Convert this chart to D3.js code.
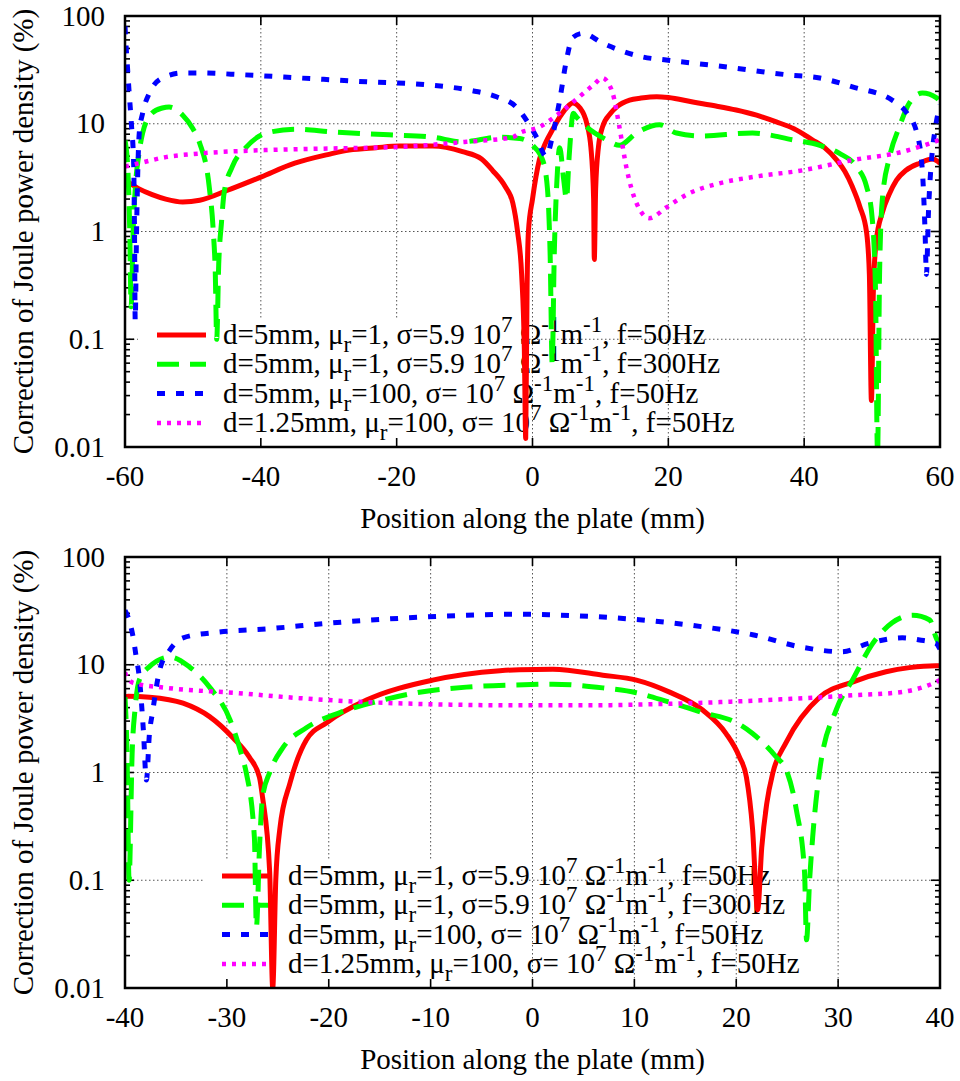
<!DOCTYPE html>
<html><head><meta charset="utf-8">
<script src="https://cdn.jsdelivr.net/npm/d3@7"></script>
<style>body{margin:0;background:#fff}svg{display:block}text{font-family:"Liberation Serif","Times New Roman",serif;fill:#000}</style>
</head><body><svg id="c" width="960" height="1081"></svg>
<script>
// ---------------- data ----------------
const topXTicks = [-60,-40,-20,0,20,40,60];
const botXTicks = [-40,-30,-20,-10,0,10,20,30,40];
const yTicks = [0.01,0.1,1,10,100];
const yTickLabels = ["0.01","0.1","1","10","100"];
const xTitle = "Position along the plate (mm)";
const yTitle = "Correction of Joule power density (%)";

// top panel
const topRedX = [-60,-58,-56,-54,-51.5,-49,-45,-40,-35,-30,-27,-23,-19.6,-14.7,-10.3,-7.5,-5.9,-4,-2.9,-2.2,-1.6,-1.2,-1.0,-0.8,-0.6,0,1,2,2.9,4,5,5.9,7,8,8.6,9.0,9.1,9.3,9.7,10.3,11.5,12.5,14.3,16,18.3,20,23.6,27,30,33,35.9,38.5,41.2,43,44.8,46,47.1,48.2,49.2,49.6,49.9,50.2,50.6,51.5,52.5,53.6,55,57,58.9,60];
const topRedY = [3.0,2.5,2.2,2.0,1.88,1.95,2.4,3.2,4.3,5.2,5.7,6.0,6.2,6.2,5.5,4.7,3.7,2.6,1.84,1.0,0.4,0.08,0.012,0.3,1.0,2.0,4.6,6.8,8.7,11.5,14,15.6,14,10,6,2,0.55,2.5,6,9.3,12.5,14.5,16.6,17.3,17.8,17.5,15.9,14.6,13.4,12,10.4,9,7.1,6,4.6,3.6,2.6,1.7,0.97,0.4,0.027,0.3,0.8,1.49,2.2,3.0,3.7,4.3,4.7,4.3];

const topGreenX = [-60,-59.6,-59.3,-59.1,-58.8,-58.4,-58,-57.4,-56,-54.5,-53.5,-51.5,-50,-49,-47.6,-47,-46.7,-46.5,-46.2,-45.8,-45.4,-44.2,-42.1,-39.2,-34.8,-29.5,-21.1,-14.7,-10.3,-4.9,-1.9,0,1.5,2.2,2.6,2.9,3.2,3.6,4.0,4.6,5.0,5.4,6.0,6.5,8,10.9,12.8,15.3,18.7,21.2,24.6,32.4,38.3,42.3,45.2,47.7,49.2,50,50.5,50.8,51.1,51.5,52.6,54,55.5,57.4,59.5,60];
const topGreenY = [7,4,1,0.2,1,3,5,8.2,12.6,14,14.3,12,9,6.6,2.6,1,0.4,0.1,0.5,1.2,2.3,4.0,6.1,8.2,8.9,8.4,7.9,7.5,6.8,7.5,7.3,6.3,4.6,2.5,0.6,0.06,0.6,3,6,3,2,5,12.5,11.5,9.3,7.1,6.3,8.2,9.8,8.2,7.7,8.2,7.1,6.3,5.3,4.0,2.6,1.36,0.3,0.008,0.4,1.95,5.0,9.3,15.6,19.3,17.4,16];

const topBlueX = [-60,-59.8,-59.6,-59.4,-59.2,-59.0,-58.8,-58.7,-58.6,-58.5,-58.3,-58.1,-57.9,-57.4,-56.4,-54.5,-51.5,-49,-42.7,-34.3,-24.4,-15.6,-9.3,-5.3,-2.4,-0.9,0.6,2,3,4,5,5.9,7.4,10.3,16.2,19.7,28.6,37.4,42.3,47.1,53,55.1,56.6,57.4,57.8,58.0,58.3,58.8,59.3,60];
const topBlueY = [80,48,31,20,13.4,8.8,5.7,3.6,1.0,0.15,1,4,8.2,12.6,19.3,26.6,29.6,29.6,28.5,26.6,24.5,23,20.5,17.8,14.3,10.8,7.5,5.0,8,16.5,39,63,69,56,41.7,39,33.6,28.5,26.6,22,16.5,12.6,8.2,3.7,1,0.4,1.5,5,9,15];

const topMagX = [-60,-57.9,-54,-49,-39.2,-29.5,-19.6,-9.7,-2.9,-1.9,1,4,6.9,9,10.3,11.3,11.8,12.8,13.8,15.3,17.2,19.7,22.7,27.5,32.4,39.8,47.1,54.5,60];
const topMagY = [4.0,4.3,4.9,5.3,5.7,5.9,6.1,6.8,7.5,8.2,9.3,12.6,17.8,23,26.6,23,19.3,9.3,4.0,1.84,1.33,1.67,2.2,2.8,3.2,3.7,4.6,5.5,7.1];

// bottom panel
const botRedX = [-40,-39.7,-37.6,-34.3,-31.7,-29.4,-27.8,-26.8,-26.5,-25.8,-25.5,-25.2,-24.8,-23.8,-22.2,-20.2,-16.3,-9.8,-3.2,-1.3,2,6.9,10.2,13.4,16.7,19,20.3,21,21.6,22.1,22.5,23,23.6,24.9,28.2,31.4,34.7,37,39.6,40];
const botRedY = [5.0,5.1,5.0,4.4,3.3,2.1,1.39,0.9,0.59,0.12,0.01,0.1,0.3,0.8,2.0,2.9,4.7,7.2,8.8,9.0,9.1,8.0,7.2,5.6,3.8,2.3,1.4,0.9,0.3,0.053,0.2,0.52,1.0,1.9,5.0,6.9,8.6,9.4,9.8,9.8];

const botGreenX = [-40,-39.8,-39.6,-39.3,-39,-38.6,-37.6,-35.6,-33.7,-31.7,-29.7,-28.5,-28.1,-27.3,-27.1,-26.8,-26.5,-25.8,-24.5,-22.2,-18.9,-14.7,-11.4,-6.5,-1.6,2,6.9,10.2,13.4,16.7,20,21.6,23.9,24.9,25.9,26.7,26.9,27.2,27.5,28.2,29.8,31.4,33.4,35.3,37.3,39,39.6,40];
const botGreenY = [5,1.5,0.1,1.5,4,7.2,9.6,11.8,9.6,6.2,3.1,1.4,1.0,0.25,0.037,0.2,0.59,1.0,1.7,2.6,3.6,4.7,5.5,6.2,6.5,6.6,6.1,5.5,4.5,3.6,2.9,2.3,1.4,1.06,0.45,0.12,0.028,0.1,0.25,1.06,3.8,7.2,15.8,24.5,28.8,26,18,15];

const botBlueX = [-40,-39.7,-39.2,-38.9,-38.6,-38.2,-37.9,-37.6,-37.3,-36.6,-35.6,-34.3,-31,-26.1,-19.6,-13,-6.5,-1.6,2,6.9,11.8,16.7,21.6,26.5,30.4,33,36.3,38,39.6,40];
const botBlueY = [32,27.7,18,11.8,7.7,2.5,0.85,2.3,3.6,8.9,13.7,17.8,20,21.5,24.5,27,28.8,29.5,29,27.7,25.5,22.5,19,14.5,13.2,15.8,17.8,17.0,15.8,14];

const botMagX = [-40,-39.9,-39.2,-35.9,-29.4,-22.9,-16.3,-9.8,-1.6,5.3,11.8,18.4,24.9,31.4,36.3,39.6,40];
const botMagY = [8.5,8.0,6.8,6.1,5.5,4.9,4.5,4.3,4.2,4.2,4.3,4.5,4.8,5.2,5.6,6.9,7.2];

const legendLabels = [
  [["d=5mm, μ",0],["r",-1],["=1, σ=5.9 10",0],["7",1],[" Ω",0],["-1",1],["m",0],["-1",1],[", f=50Hz",0]],
  [["d=5mm, μ",0],["r",-1],["=1, σ=5.9 10",0],["7",1],[" Ω",0],["-1",1],["m",0],["-1",1],[", f=300Hz",0]],
  [["d=5mm, μ",0],["r",-1],["=100, σ= 10",0],["7",1],[" Ω",0],["-1",1],["m",0],["-1",1],[", f=50Hz",0]],
  [["d=1.25mm, μ",0],["r",-1],["=100, σ= 10",0],["7",1],[" Ω",0],["-1",1],["m",0],["-1",1],[", f=50Hz",0]]
];
const colors = ["#ff0000","#00ff00","#0000ff","#ff00ff"];
const dashes = [null,"22,11","8,11","4,6"];
const widths = [5,5,5,4.5];

// ---------------- drawing ----------------
const svg = d3.select("#c");
const FS = 29;
const SFS = 23;
const L = 125, R = 940;

function panel(cfg){
  const x = d3.scaleLinear().domain(cfg.xdom).range([L,R]);
  const y = d3.scaleLog().domain([0.01,100]).range([cfg.bottom,cfg.top]);
  const g = svg.append("g");
  // grid
  cfg.xticks.forEach(t=>{
    if(t===cfg.xdom[0]||t===cfg.xdom[1]) return;
    g.append("line").attr("x1",x(t)).attr("x2",x(t)).attr("y1",cfg.top).attr("y2",cfg.bottom)
      .attr("stroke","#555").attr("stroke-width",1).attr("stroke-dasharray","1.5,2.5");
  });
  yTicks.forEach(t=>{
    if(t===0.01||t===100) return;
    g.append("line").attr("x1",L).attr("x2",R).attr("y1",y(t)).attr("y2",y(t))
      .attr("stroke","#555").attr("stroke-width",1).attr("stroke-dasharray","1.5,2.5");
  });
  // opaque key box
  g.append("rect").attr("x",cfg.box[0]).attr("y",cfg.box[1]).attr("width",cfg.box[2]-cfg.box[0])
    .attr("height",cfg.bottom-cfg.box[1]-1).attr("fill","#fff");
  // ticks
  const minor=[];
  for(let e=-2;e<2;e++) for(let m=2;m<=9;m++) minor.push(m*Math.pow(10,e));
  const tk = g.append("g").attr("stroke","#000").attr("stroke-width",1.6);
  yTicks.forEach(t=>{
    tk.append("line").attr("x1",L).attr("x2",L+9).attr("y1",y(t)).attr("y2",y(t));
    tk.append("line").attr("x1",R).attr("x2",R-9).attr("y1",y(t)).attr("y2",y(t));
  });
  minor.forEach(t=>{
    tk.append("line").attr("x1",L).attr("x2",L+5).attr("y1",y(t)).attr("y2",y(t));
    tk.append("line").attr("x1",R).attr("x2",R-5).attr("y1",y(t)).attr("y2",y(t));
  });
  cfg.xticks.forEach(t=>{
    tk.append("line").attr("x1",x(t)).attr("x2",x(t)).attr("y1",cfg.bottom).attr("y2",cfg.bottom-9);
    tk.append("line").attr("x1",x(t)).attr("x2",x(t)).attr("y1",cfg.top).attr("y2",cfg.top+9);
  });
  // tick labels
  yTicks.forEach((t,i)=>{
    g.append("text").attr("x",105).attr("y",y(t)).attr("dy","0.33em").attr("text-anchor","end")
      .attr("font-size",FS).text(yTickLabels[i]);
  });
  cfg.xticks.forEach(t=>{
    g.append("text").attr("x",x(t)).attr("y",cfg.bottom+39).attr("text-anchor","middle")
      .attr("font-size",FS).text(String(t));
  });
  g.append("text").attr("x",(L+R)/2).attr("y",cfg.bottom+81).attr("text-anchor","middle")
    .attr("font-size",FS).text(xTitle);
  g.append("text").attr("transform",`translate(33,${(cfg.top+cfg.bottom)/2}) rotate(-90)`)
    .attr("text-anchor","middle").attr("font-size",FS).text(yTitle);
  // legend
  const kg = g.append("g");
  legendLabels.forEach((parts,i)=>{
    const yy = cfg.keyY + i*29.3;
    kg.append("line").attr("x1",cfg.keyX).attr("x2",cfg.keyX+49).attr("y1",yy).attr("y2",yy)
      .attr("stroke",colors[i]).attr("stroke-width",widths[i]).attr("stroke-dasharray",dashes[i]);
    const t = kg.append("text").attr("x",cfg.keyX+66).attr("y",yy+9).attr("font-size",FS);
    let cur=0;
    parts.forEach(([s,k])=>{
      const target = k===1?-12:(k===-1?8:0);
      t.append("tspan").attr("dy",target-cur).attr("font-size",k===0?FS:SFS).text(s);
      cur=target;
    });
  });
  // clip
  const cid = "clip"+cfg.id;
  svg.append("clipPath").attr("id",cid).append("rect").attr("x",L).attr("y",cfg.top)
    .attr("width",R-L).attr("height",cfg.bottom-cfg.top);
  const line = d3.line().x(d=>x(d[0])).y(d=>y(Math.max(d[1],0.005))).curve(d3.curveMonotoneX);
  const lg = g.append("g").attr("clip-path",`url(#${cid})`);
  cfg.series.forEach((s,i)=>{
    const pts = s[0].map((v,j)=>[v,s[1][j]]);
    lg.append("path").attr("d",line(pts)).attr("fill","none").attr("stroke",colors[i])
      .attr("stroke-width",widths[i]).attr("stroke-dasharray",dashes[i]).attr("stroke-linejoin","round");
  });
  // border
  g.append("rect").attr("x",L).attr("y",cfg.top).attr("width",R-L).attr("height",cfg.bottom-cfg.top)
    .attr("fill","none").attr("stroke","#000").attr("stroke-width",2.5);
}

panel({id:1,xdom:[-60,60],xticks:topXTicks,top:16,bottom:447,box:[138,320,520],keyX:157,keyY:335,
  series:[[topRedX,topRedY],[topGreenX,topGreenY],[topBlueX,topBlueY],[topMagX,topMagY]]});
panel({id:2,xdom:[-40,40],xticks:botXTicks,top:557,bottom:988,box:[203,860,520],keyX:222,keyY:876,
  series:[[botRedX,botRedY],[botGreenX,botGreenY],[botBlueX,botBlueY],[botMagX,botMagY]]});
</script></body></html>
